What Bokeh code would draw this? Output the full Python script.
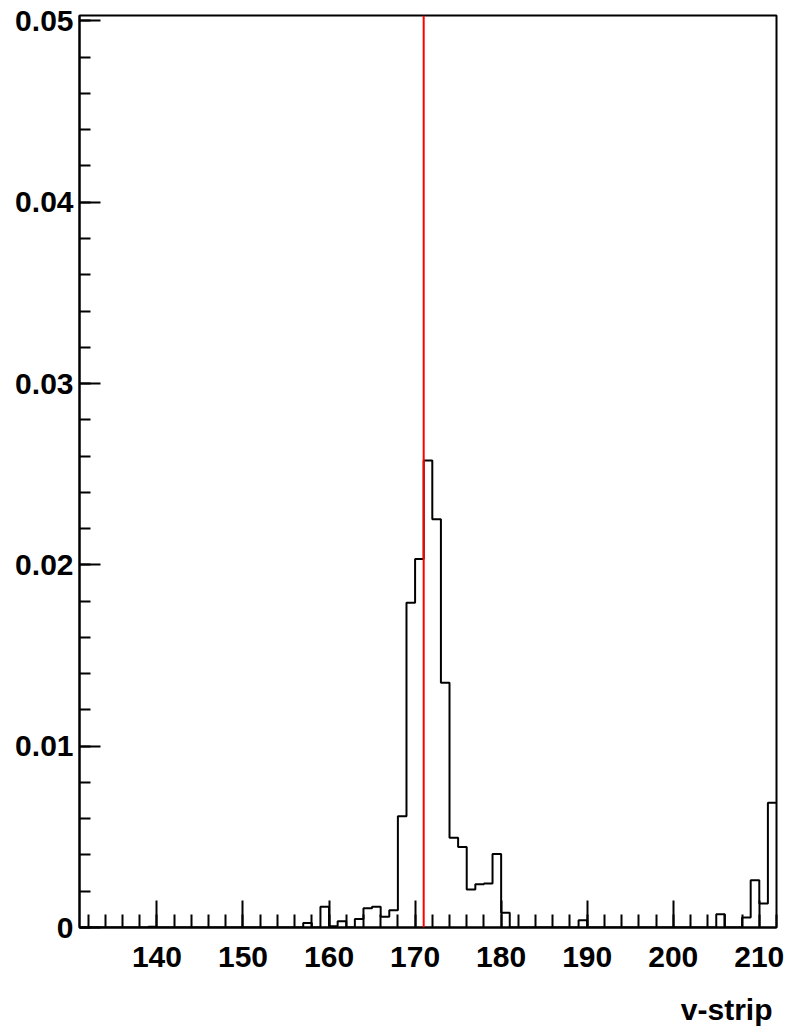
from bokeh.plotting import figure
from bokeh.models import FixedTicker, Span, Title
from bokeh.embed import file_html
from bokeh.resources import INLINE

# ---- data ----
bin_low = 131
bin_high = 212
values = [
    0, 0, 0, 0, 0, 0, 0, 0, 0.00004,          # 131-139
    0, 0, 0, 0, 0, 0, 0, 0, 0, 0,              # 140-149
    0, 0, 0, 0, 0, 0, 0, 0.00025, 0, 0.00114,  # 150-159
    0.00007, 0.00035, 0, 0.00047, 0.00106, 0.00114, 0.00059, 0.00095, 0.00614, 0.01791,  # 160-169
    0.02033, 0.02575, 0.02252, 0.0135, 0.00495, 0.00444, 0.0021, 0.00239, 0.00243, 0.00405,  # 170-179
    0.00081, 0, 0, 0, 0, 0, 0, 0, 0, 0.0004,   # 180-189
    0, 0, 0, 0, 0, 0, 0, 0, 0, 0,              # 190-199
    0, 0, 0, 0, 0, 0.00073, 0, 0, 0.00055, 0.00261,  # 200-209
    0.00132, 0.00688,                          # 210-211
]
marker_x = 171.0
x_major = [140, 150, 160, 170, 180, 190, 200, 210]
x_minor = list(range(132, 213, 2))
y_major = [0, 0.01, 0.02, 0.03, 0.04, 0.05]
y_labels = ["0", "0.01", "0.02", "0.03", "0.04", "0.05"]
y_minor = [i * 0.002 for i in range(0, 26)]
x_title = "v-strip"

edges = list(range(bin_low, bin_high + 1))
step_x = edges
step_y = values + [values[-1]]

FONT = "Liberation Sans"
FS = "30px"

p = figure(
    frame_width=697, frame_height=912,
    x_range=(bin_low, bin_high), y_range=(0, 0.0503),
    output_backend="svg", toolbar_location=None,
    min_border_left=79, min_border_right=15, min_border_top=15, min_border_bottom=100,
)
p.background_fill_color = "white"
p.border_fill_color = "white"
p.outline_line_color = "black"
p.outline_line_width = 2
p.xgrid.visible = False
p.ygrid.visible = False

# histogram
p.step(step_x, step_y, mode="after", line_color="black", line_width=2)

# red marker
p.add_layout(Span(location=marker_x, dimension="height", line_color="#ff0000", line_width=2))

xa = p.xaxis[0]
xa.ticker = FixedTicker(ticks=x_major, minor_ticks=x_minor)
xa.major_tick_in = 27
xa.major_tick_out = 0
xa.minor_tick_in = 13
xa.minor_tick_out = 0
xa.axis_line_width = 2
xa.major_tick_line_width = 2
xa.minor_tick_line_width = 2
xa.major_label_text_font = FONT
xa.major_label_text_font_size = FS
xa.major_label_text_font_style = "bold"
xa.major_label_text_color = "black"
xa.major_label_standoff = 19

ya = p.yaxis[0]
ya.ticker = FixedTicker(ticks=y_major, minor_ticks=y_minor)
ya.major_label_overrides = {v: l for v, l in zip(y_major, y_labels)}
ya.major_tick_in = 21
ya.major_tick_out = 0
ya.minor_tick_in = 11
ya.minor_tick_out = 0
ya.axis_line_width = 2
ya.major_tick_line_width = 2
ya.minor_tick_line_width = 2
ya.major_label_text_font = FONT
ya.major_label_text_font_size = FS
ya.major_label_text_font_style = "bold"
ya.major_label_text_color = "black"
ya.major_label_standoff = 6

p.add_layout(Title(text=x_title, align="right", text_font=FONT, text_font_size=FS,
                   text_font_style="bold", text_color="black", standoff=43, offset=4), "below")

open("out.html", "w").write(file_html(p, INLINE))
